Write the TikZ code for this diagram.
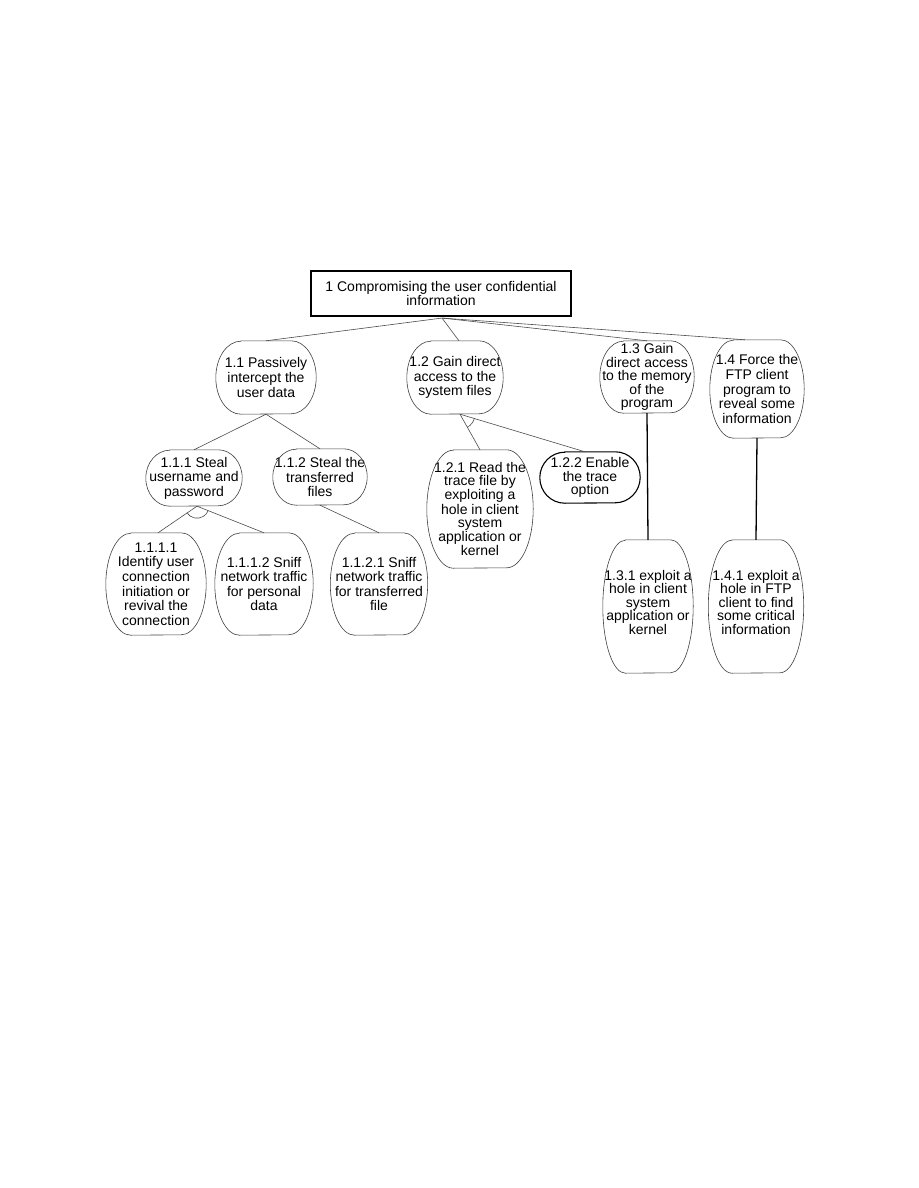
\documentclass[tikz,border=0pt]{standalone}
\usepackage{fontspec}
\setmainfont{Liberation Sans}
\usetikzlibrary{calc}
\tikzset{
  blobtext/.style={draw=none, inner sep=0pt, align=center, font=\fontsize{14}{14.6}\selectfont},
  tight/.style={font=\fontsize{14}{13.4}\selectfont},
  blobline/.style={draw=black!75, line width=0.6pt},
  boldline/.style={draw=black, line width=1.1pt},
  edge/.style={draw=black!70, line width=0.6pt},
  thickedge/.style={draw=black, line width=1.3pt},
  rootbox/.style={draw=black, line width=1.1pt, inner sep=0pt, align=center, minimum width=260pt, minimum height=45pt, font=\fontsize{14}{14.4}\selectfont}
}
\newcommand\blobnode[7][]{%
  \node[blobtext, minimum width=#4pt, minimum height=#5pt, #6] (#2) at (#3) {#7};
  \pgfmathsetmacro\rxv{#4/4}\pgfmathsetmacro\ryv{#5/2}%
  \draw[blobline,#1] ($(#2.north west)+(\rxv,0)$) -- ($(#2.north east)+(-\rxv,0)$)
    arc[start angle=90,end angle=-90,x radius=\rxv,y radius=\ryv]
    -- ($(#2.south west)+(\rxv,0)$)
    arc[start angle=270,end angle=90,x radius=\rxv,y radius=\ryv] -- cycle;}
\newcommand\andarc[4]{% origin, child1, child2, radius
  \draw[edge] let \p0=(#1), \p1=($(#2)-(\p0)$), \p2=($(#3)-(\p0)$),
     \n1={atan2(\y1,\x1)}, \n2={atan2(\y2,\x2)} in
     ($(\p0)+(\n1:#4)$) arc[start angle=\n1, end angle=\n2, radius=#4];}
\begin{document}
\begin{tikzpicture}[x=1pt,y=1pt]
\useasboundingbox[fill=white] (0,0) rectangle (918,-1188);
\node[rootbox] (root) at (441,-293.5) {1 Compromising the user confidential\\information};

\blobnode{n11}{266,-377.5}{100}{73}{}{1.1 Passively\\intercept the\\user data}
\blobnode{n12}{455,-377.5}{96}{73}{}{1.2 Gain direct\\access to the\\system files}
\blobnode{n13}{647,-377}{94}{72}{tight}{1.3 Gain\\direct access\\to the memory\\of the\\program}
\blobnode{n14}{757,-389}{94}{98}{}{1.4 Force the\\FTP client\\program to\\reveal some\\information}

\blobnode{n111}{194,-478}{96}{56}{}{1.1.1 Steal\\username and\\password}
\blobnode{n112}{320,-477}{94}{56}{}{1.1.2 Steal the\\transferred\\files}
\blobnode{n121}{480,-509}{106}{118}{font=\fontsize{14}{13}\selectfont}{1.2.1 Read the\\trace file by\\exploiting a\\hole in client\\system\\application or\\kernel}
\blobnode[boldline]{n122}{590,-477.5}{100}{51}{tight}{1.2.2 Enable\\the trace\\option}

\blobnode{n1111}{156,-584}{100}{102}{}{1.1.1.1\\Identify user\\connection\\initiation or\\revival the\\connection}
\blobnode{n1112}{264,-584}{98}{102}{}{1.1.1.2 Sniff\\network traffic\\for personal\\data}
\blobnode{n1121}{379,-584}{97}{102}{}{1.1.2.1 Sniff\\network traffic\\for transferred\\file}
\blobnode{n131}{648,-606.5}{90}{133}{tight}{1.3.1 exploit a\\hole in client\\system\\application or\\kernel\\[-5pt]}
\blobnode{n141}{756,-606.5}{95}{133}{tight}{1.4.1 exploit a\\hole in FTP\\client to find\\some critical\\information\\[-5pt]}

\coordinate (r0) at ($(root.south)+(1,-1.5)$);
\draw[edge] (r0) -- (n11.north);
\draw[edge] (r0) -- ($(n12.north)+(4,0)$);
\draw[edge] (r0) -- (n13.north);
\draw[edge] (r0) -- ($(n14.north)+(-12,0)$);

\draw[edge] (n11.south) -- (n111.north);
\draw[edge] (n11.south) -- (n112.north);

\coordinate (s12) at ($(n12.south)+(5,0)$);
\draw[edge] (s12) -- (n121.north);
\draw[edge] (s12) -- ($(n122.north)+(-5,0)$);
\andarc{s12}{n121.north}{n122.north}{15}

\coordinate (s111) at ($(n111.south)+(3,0)$);
\draw[edge] (s111) -- ($(n1111.north)+(2,0)$);
\draw[edge] (s111) -- (n1112.north);
\andarc{s111}{n1111.north}{n1112.north}{12}

\draw[edge] (n112.south) -- (n1121.north);

\draw[thickedge] (n13.south) -- (n131.north);
\draw[thickedge] (n14.south) -- (n141.north);
\end{tikzpicture}
\end{document}
